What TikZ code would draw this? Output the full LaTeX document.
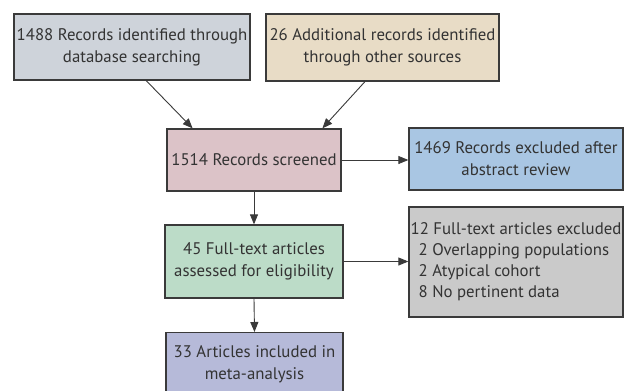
\documentclass[tikz,border=0pt]{standalone}
\usepackage{fontspec}
\setmainfont{PT Sans}
\usetikzlibrary{arrows.meta,calc}
\definecolor{cA}{HTML}{CED3DA}
\definecolor{cB}{HTML}{E8DCC6}
\definecolor{cC}{HTML}{DCC3C8}
\definecolor{cD}{HTML}{A9C6E3}
\definecolor{cE}{HTML}{BCDCC8}
\definecolor{cF}{HTML}{CACACA}
\definecolor{cG}{HTML}{B6BAD9}
\definecolor{edge}{HTML}{3A3A3A}
\tikzset{
  box/.style={draw=edge, line width=1.3pt, rectangle, inner sep=0pt, align=center,
    text=black!80, font=\fontsize{16.8}{22}\selectfont},
  arr/.style={draw=edge, line width=0.9pt, -{Triangle[length=10pt,width=8pt]}}
}
\begin{document}
\begin{tikzpicture}[x=1pt,y=-1pt]
\clip (0,0) rectangle (625,391);
\fill[white] (0,0) rectangle (625,391);
\node[box, fill=cA, minimum width=236pt, minimum height=66pt] (b1) at (132,47) {1488 Records identified through\\database searching};
\node[box, fill=cB, minimum width=233pt, minimum height=67pt] (b2) at (382.5,47.5) {26 Additional records identified\\through other sources};
\node[box, fill=cC, minimum width=174pt, minimum height=62pt] (b3) at (254,160) {1514 Records screened};
\node[box, fill=cD, minimum width=214pt, minimum height=62pt] (b4) at (516,159) {1469 Records excluded after\\abstract review};
\node[box, fill=cE, minimum width=178pt, minimum height=73pt] (b5) at (254,261.5) {45 Full-text articles\\assessed for eligibility};
\node[box, fill=cF, minimum width=214pt, minimum height=110pt, align=left] (b6) at (516,262) {12 Full-text articles excluded\\[-1pt]\hspace*{8pt}2 Overlapping populations\\[-1pt]\hspace*{8pt}2 Atypical cohort\\[-1pt]\hspace*{8pt}8 No pertinent data};
\node[box, fill=cG, minimum width=177pt, minimum height=64pt, anchor=north] (b7) at (254.5,332) {33 Articles included in\\meta-analysis};
\draw[arr] ($(b1.south west)!0.56!(b1.south east)$) -- ($(b3.north west)!0.15!(b3.north east)$);
\draw[arr] ($(b2.south west)!0.425!(b2.south east)$) -- ($(b3.north west)!0.89!(b3.north east)$);
\draw[arr] (b3.east) -- (b3.east -| b4.west);
\draw[arr] (b3.south) -- (b5.north);
\draw[arr] (b5.east) -- (b5.east -| b6.west);
\draw[arr] (b5.south) -- (b7.north);
\end{tikzpicture}
\end{document}
